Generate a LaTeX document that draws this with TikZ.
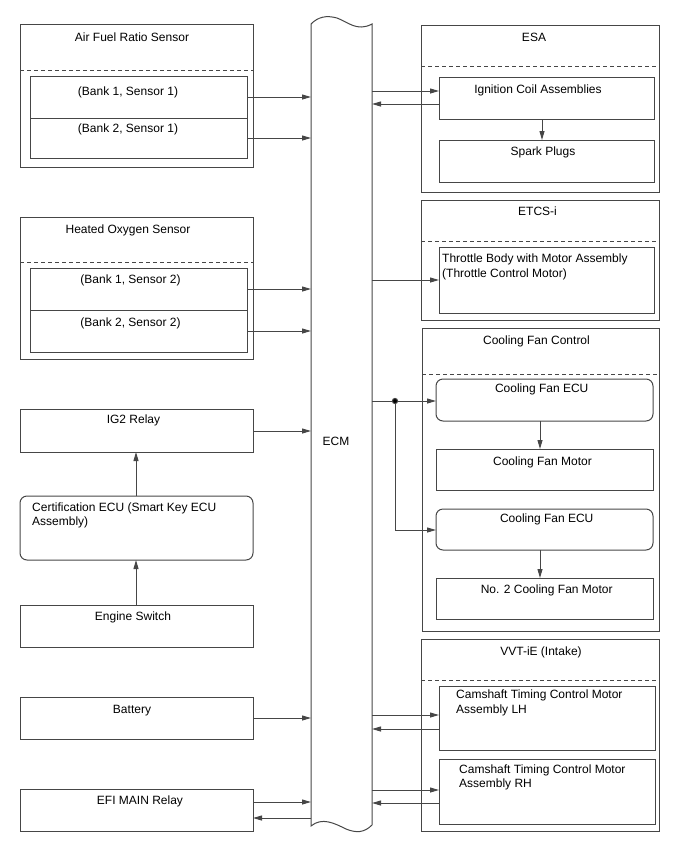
\documentclass[tikz,border=0pt]{standalone}
\usepackage{fontspec}
\setmainfont{Liberation Sans}
\usetikzlibrary{arrows.meta}
\definecolor{ln}{RGB}{70,70,70}
\begin{document}
\begin{tikzpicture}[x=1pt,y=-1pt,
 box/.style={draw=ln, line width=1pt, anchor=north west, inner sep=0pt, outer sep=0pt},
 rbox/.style={box, rounded corners=7pt},
 lbl/.style={anchor=base, inner sep=0pt, font=\fontsize{12}{14}\selectfont},
 llbl/.style={anchor=base west, inner sep=0pt, font=\fontsize{12}{14}\selectfont},
 arr/.style={draw=ln, line width=1pt, -{Triangle[length=9pt,width=5pt]}},
 ln/.style={draw=ln, line width=1pt},
 dsh/.style={draw=ln, line width=1pt, dash pattern=on 4pt off 3pt},
]
\useasboundingbox (0,0) rectangle (688,852);

% ECM
\node[anchor=north west, minimum width=61, minimum height=801, inner sep=0pt, outer sep=0pt] (ecm) at (311,24) {};
\draw[ln] (311,24) .. controls (318,17) and (326,15) .. (337,18) .. controls (348,22) and (357,32) .. (372,24) -- (372,825)
  .. controls (364,833) and (356,833) .. (346,829) .. controls (334,823) and (322,817) .. (311,826) -- cycle;
\node[lbl] (ecmt) at (336,445) {ECM};

% Air Fuel Ratio Sensor
\node[box, minimum width=233, minimum height=143] (afr) at (20,24) {};
\draw[dsh] (afr.west |- 0,70) -- (afr.east |- 0,70);
\node[box, minimum width=217, minimum height=42] (b11) at (30,76) {};
\node[box, minimum width=217, minimum height=40] (b21) at (30,118) {};
\node[lbl] (afrt) at (132,41) {Air Fuel Ratio Sensor};
\node[lbl] (b11t) at (128,95) {(Bank 1, Sensor 1)};
\node[lbl] (b21t) at (128,132) {(Bank 2, Sensor 1)};

% Heated Oxygen Sensor
\node[box, minimum width=233, minimum height=142] (hos) at (20,217) {};
\draw[dsh] (hos.west |- 0,262) -- (hos.east |- 0,262);
\node[box, minimum width=217, minimum height=42] (b12) at (30,268) {};
\node[box, minimum width=217, minimum height=42] (b22) at (30,310) {};
\node[lbl] (host) at (128,233) {Heated Oxygen Sensor};
\node[lbl] (b12t) at (130.5,283) {(Bank 1, Sensor 2)};
\node[lbl] (b22t) at (130.5,326.5) {(Bank 2, Sensor 2)};

% left column
\node[box, minimum width=233, minimum height=43] (ig2) at (20,409) {};
\node[lbl] (ig2t) at (133.5,423) {IG2 Relay};
\node[rbox, minimum width=233, minimum height=64] (cert) at (20,496) {};
\node[llbl] (certa) at (32,511) {Certification ECU (Smart Key ECU};
\node[llbl] (certb) at (32,525) {Assembly)};
\node[box, minimum width=233, minimum height=42] (es) at (20,605) {};
\node[lbl] (est) at (133,620) {Engine Switch};
\node[box, minimum width=233, minimum height=42] (bat) at (20,697) {};
\node[lbl] (batt) at (132,713) {Battery};
\node[box, minimum width=233, minimum height=42] (efi) at (20,789) {};
\node[lbl] (efit) at (140,804) {EFI MAIN Relay};

% ESA
\node[box, minimum width=238, minimum height=167] (esa) at (421,25) {};
\draw[dsh] (esa.west |- 0,66) -- (esa.east |- 0,66);
\node[box, minimum width=215, minimum height=42] (ign) at (439,77) {};
\node[box, minimum width=215, minimum height=42] (spk) at (439,140) {};
\node[lbl] (esat) at (534,41) {ESA};
\node[lbl] (ignt) at (538,93) {Ignition Coil Assemblies};
\node[lbl] (spkt) at (543,155) {Spark Plugs};

% ETCS-i
\node[box, minimum width=238, minimum height=120] (etcs) at (421,200) {};
\draw[dsh] (etcs.west |- 0,241) -- (etcs.east |- 0,241);
\node[box, minimum width=215, minimum height=66] (thr) at (439,247) {};
\node[lbl] (etcst) at (537.5,215) {ETCS-i};
\node[llbl] (thra) at (442,262) {Throttle Body with Motor Assembly};
\node[llbl] (thrb) at (442,277) {(Throttle Control Motor)};

% Cooling Fan Control
\node[box, minimum width=237, minimum height=303] (cfc) at (422,328) {};
\draw[dsh] (cfc.west |- 0,374) -- (cfc.east |- 0,374);
\node[lbl] (cfct) at (536.5,344) {Cooling Fan Control};
\node[rbox, minimum width=217, minimum height=42] (ecu1) at (436,379) {};
\node[lbl] (ecu1t) at (541.7,392.5) {Cooling Fan ECU};
\node[box, minimum width=217, minimum height=41] (mot1) at (436,449) {};
\node[lbl] (mot1t) at (542.5,465) {Cooling Fan Motor};
\node[rbox, minimum width=217, minimum height=41] (ecu2) at (436,509) {};
\node[lbl] (ecu2t) at (546.7,522.5) {Cooling Fan ECU};
\node[box, minimum width=217, minimum height=41] (mot2) at (436,578) {};
\node[lbl] (mot2t) at (546.7,593) {No. 2 Cooling Fan Motor};

% VVT-iE
\node[box, minimum width=238, minimum height=192] (vvt) at (421,639) {};
\draw[dsh] (vvt.west |- 0,680) -- (vvt.east |- 0,680);
\node[lbl] (vvtt) at (541,655.5) {VVT-iE (Intake)};
\node[box, minimum width=216, minimum height=64] (lh) at (439,686) {};
\node[llbl] (lha) at (456,698.5) {Camshaft Timing Control Motor};
\node[llbl] (lhb) at (456,713.5) {Assembly LH};
\node[box, minimum width=216, minimum height=65] (rh) at (439,759) {};
\node[llbl] (rha) at (459,773) {Camshaft Timing Control Motor};
\node[llbl] (rhb) at (459,787.5) {Assembly RH};

% connectors left
\draw[arr] (b11.east |- 0,97) -- (ecm.west |- 0,97);
\draw[arr] (b21.east |- 0,138) -- (ecm.west |- 0,138);
\draw[arr] (b12.east |- 0,289) -- (ecm.west |- 0,289);
\draw[arr] (b22.east |- 0,331) -- (ecm.west |- 0,331);
\draw[arr] (ig2.east |- 0,431) -- (ecm.west |- 0,431);
\draw[arr] (es.north -| 136,0) -- (cert.south -| 136,0);
\draw[arr] (cert.north -| 136,0) -- (ig2.south -| 136,0);
\draw[arr] (bat.east |- 0,718) -- (ecm.west |- 0,718);
\draw[arr] (efi.east |- 0,802) -- (ecm.west |- 0,802);
\draw[arr] (ecm.west |- 0,818) -- (efi.east |- 0,818);

% connectors right
\draw[arr] (ecm.east |- 0,91) -- (ign.west |- 0,91);
\draw[arr] (ign.west |- 0,104) -- (ecm.east |- 0,104);
\draw[arr] (ign.south -| 542,0) -- (spk.north -| 542,0);
\draw[arr] (ecm.east |- 0,280) -- (thr.west |- 0,280);
\coordinate (jn) at (395,401);
\draw[ln] (ecm.east |- jn) -- (jn);
\draw[arr] (jn) -- (ecu1.west |- jn);
\draw[arr] (jn) |- (ecu2.west |- 0,530);
\fill[ln] (jn) circle (2.6);
\draw[arr] (ecu1.south -| 540,0) -- (mot1.north -| 540,0);
\draw[arr] (ecu2.south -| 540,0) -- (mot2.north -| 540,0);
\draw[arr] (ecm.east |- 0,715) -- (lh.west |- 0,715);
\draw[arr] (lh.west |- 0,729) -- (ecm.east |- 0,729);
\draw[arr] (ecm.east |- 0,790) -- (rh.west |- 0,790);
\draw[arr] (rh.west |- 0,803) -- (ecm.east |- 0,803);
\end{tikzpicture}
\end{document}
